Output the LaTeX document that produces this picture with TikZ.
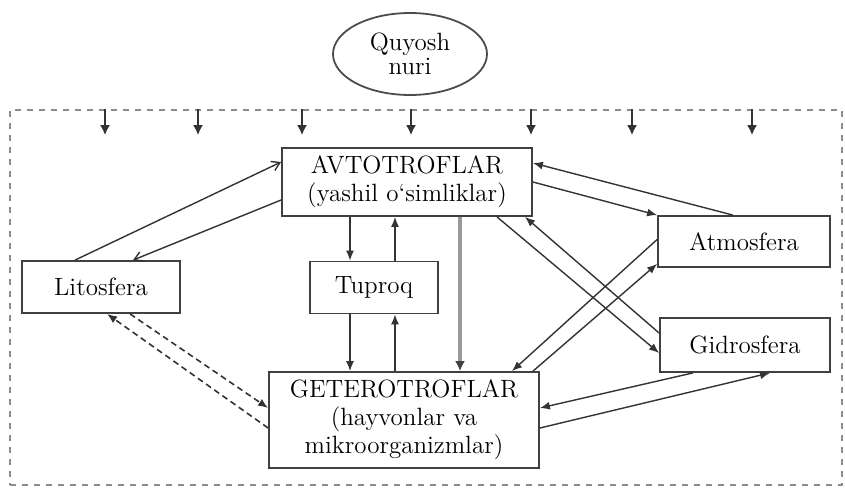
\documentclass[tikz,border=0pt]{standalone}
\usepackage{amsmath,amssymb}
\usepackage{xcolor}
\usepackage{tikz}
\usetikzlibrary{arrows.meta,shapes.geometric}

\begin{document}
\begin{tikzpicture}[x=0.5pt, y=-0.5pt,
  box/.style={draw=black!75, line width=0.9pt, fill=white, align=center, font=\fontsize{12.5}{14}\selectfont, inner sep=2pt},
  arr/.style={draw=black!80, line width=0.7pt, -{Latex[length=5pt,width=4pt]}},
  barb/.style={draw=black!80, line width=0.7pt, -{Straight Barb[length=4pt,width=5pt]}},
  dsh/.style={arr, line width=0.8pt, dash pattern=on 3pt off 2pt},
  trunk/.style={draw=black!40, line width=2pt, -{Latex[length=5pt,width=5pt,color=black!75]}},
  ray/.style={draw=black!80, line width=1pt, -{Latex[length=5pt,width=5pt]}}]
  \useasboundingbox (0,0) rectangle (845,488);
  \node[draw=black!45, dashed, line width=0.8pt, minimum width=416pt, minimum height=187.5pt, inner sep=0] (frame) at (426,297.5) {};
  \node[ellipse, draw=black!70, line width=0.9pt, minimum width=77pt, minimum height=41pt, align=center, font=\fontsize{12.5}{14}\selectfont, inner sep=0] (sun) at (410,54) {Quyosh\\[-2pt]nuri};
  \node[box, minimum width=125pt, minimum height=34pt] (avto) at (407,182) {AVTOTROFLAR\\(yashil o`simliklar)};
  \node[box, minimum width=79pt, minimum height=26pt] (lito) at (101,287) {Litosfera};
  \node[box, minimum width=64pt, minimum height=26pt] (tup) at (374,287.5) {Tuproq};
  \node[box, minimum width=86pt, minimum height=25.5pt] (atmo) at (744,241.5) {Atmosfera};
  \node[box, minimum width=85pt, minimum height=27pt] (gidro) at (745,345) {Gidrosfera};
  \node[box, minimum width=135pt, minimum height=48pt] (getero) at (404,420) {GETEROTROFLAR\\(hayvonlar va\\mikroorganizmlar)};
  % sunlight
  \foreach \sx in {105,198,302,411,531,632,752}
    \draw[ray] (\sx,0 |- frame.north) -- ++(0,26);
  % avtotroflar links
  \draw[barb] ([xshift=-13pt]lito.north) -- ([yshift=10pt]avto.west);
  \draw[barb] ([yshift=-9pt]avto.west) -- ([xshift=16pt]lito.north);
  \draw[arr] ([xshift=-12pt]tup.north |- avto.south) -- ([xshift=-12pt]tup.north);
  \draw[arr] ([xshift=10.5pt]tup.north) -- ([xshift=10.5pt]tup.north |- avto.south);
  \draw[trunk] ([xshift=26.5pt]avto.south) -- ([xshift=26.5pt]avto.south |- getero.north);
  \draw[arr] ([xshift=-5.5pt]atmo.north) -- ([yshift=9.5pt]avto.east);
  \draw[arr] (avto.east) -- (atmo.north west);
  \draw[arr] ([xshift=45pt]avto.south) -- ([yshift=-4pt]gidro.west);
  \draw[arr] ([yshift=6pt]gidro.west) -- ([xshift=59pt]avto.south);
  % geterotroflar links
  \draw[arr] ([xshift=-12pt]tup.south) -- ([xshift=-12pt]tup.south |- getero.north);
  \draw[arr] ([xshift=10.5pt]tup.south |- getero.north) -- ([xshift=10.5pt]tup.south);
  \draw[arr] ([yshift=1pt]atmo.west) -- ([xshift=54pt]getero.north);
  \draw[arr] ([xshift=64.5pt]getero.north) -- ([yshift=2pt]atmo.south west);
  \draw[arr] ([xshift=-26pt]gidro.south) -- ([yshift=6pt]getero.east);
  \draw[arr] ([yshift=-4pt]getero.east) -- ([xshift=12.5pt]gidro.south);
  \draw[dsh] ([yshift=-4pt]getero.west) -- ([xshift=3pt]lito.south);
  \draw[dsh] ([xshift=14.5pt]lito.south) -- ([yshift=6pt]getero.west);
\end{tikzpicture}
\end{document}
